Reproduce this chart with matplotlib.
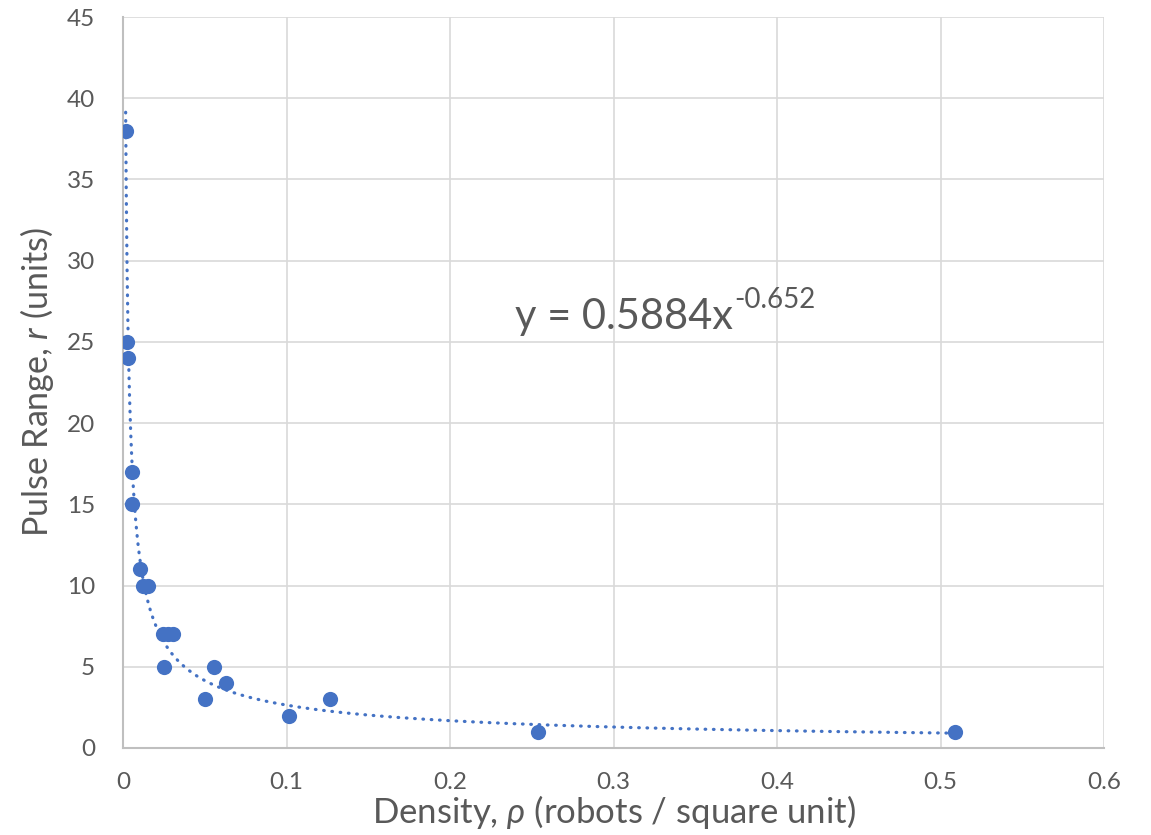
import numpy as np
import matplotlib.pyplot as plt

plt.rcParams['font.family'] = ['Lato', 'DejaVu Sans']
plt.rcParams['mathtext.fontset'] = 'custom'
plt.rcParams['mathtext.rm'] = 'Lato'
plt.rcParams['mathtext.it'] = 'Lato:italic'
plt.rcParams['mathtext.fallback'] = 'stixsans'

# density (robots / square unit) and pulse range
density = [0.0016, 0.0025, 0.003, 0.0053, 0.0055, 0.0106, 0.0124, 0.0151,
           0.0246, 0.0275, 0.0308, 0.0249, 0.0558, 0.0630, 0.0503,
           0.1015, 0.1266, 0.2538, 0.5089]
pulse_range = [38, 25, 24, 17, 15, 11, 10, 10,
               7, 7, 7, 5, 5, 4, 3,
               2, 3, 1, 1]

# power-law trendline reported on the chart
coef = 0.5884
expo = -0.652

x_ticks = [0, 0.1, 0.2, 0.3, 0.4, 0.5, 0.6]
y_ticks = [0, 5, 10, 15, 20, 25, 30, 35, 40, 45]

blue = '#4472C4'
grey_text = '#595959'

fig = plt.figure(figsize=(11.51, 8.35), dpi=100)
ax = fig.add_axes([0.1069, 0.1042, 0.8523, 0.8754])

xs = np.linspace(min(density), max(density), 3000)
ax.plot(xs, coef * xs ** expo, color=blue, lw=2.3, linestyle=(0, (0.2, 2.4)),
        dash_capstyle='round', zorder=3)
ax.scatter(density, pulse_range, s=120, color=blue, zorder=4, linewidths=0)

ax.set_xlim(0, 0.6)
ax.set_ylim(0, 45)
ax.set_xticks(x_ticks)
ax.set_yticks(y_ticks)
ax.set_xticklabels([f'{v:g}' for v in x_ticks])
ax.grid(True, color='#D9D9D9', lw=1.2, zorder=0)
ax.set_axisbelow(True)
ax.tick_params(length=0, labelsize=17.5, colors=grey_text)
ax.tick_params(axis='y', pad=20)
ax.tick_params(axis='x', pad=17)

for side in ['top', 'right']:
    ax.spines[side].set_visible(False)
for side in ['left', 'bottom']:
    ax.spines[side].set_color('#BFBFBF')
    ax.spines[side].set_linewidth(1.5)

ax.set_xlabel('Density, $\\rho$ (robots / square unit)', fontsize=25,
              color=grey_text, labelpad=0)
ax.set_ylabel('Pulse Range, $r$ (units)', fontsize=24.5, color=grey_text,
              labelpad=8)

eq = ax.text(0.2395, 25.8, 'y = 0.5884x', fontsize=30, color=grey_text,
             ha='left', va='baseline')
ax.annotate(f'{expo:g}', xy=(1, 1), xycoords=eq, xytext=(1, -11),
            textcoords='offset points', fontsize=20, color=grey_text,
            ha='left', va='bottom')

fig.savefig('out.png', dpi=100)
